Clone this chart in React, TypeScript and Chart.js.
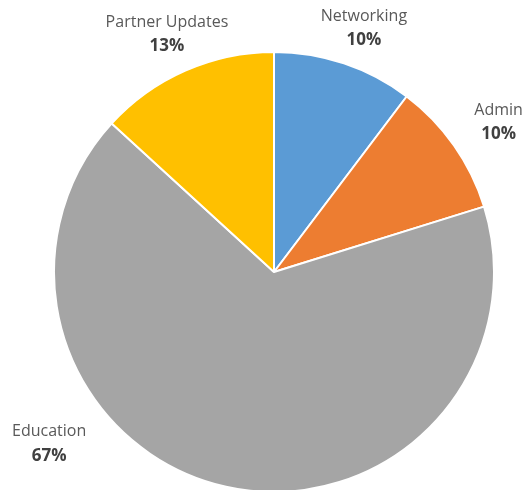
import React, { useEffect, useRef } from "react";
import { Chart, registerables } from "chart.js";

Chart.register(...registerables);

const categories = ["Networking", "Admin", "Education", "Partner Updates"];
const values = [10.3, 9.9, 66.6, 13.2];
const colors = ["#5B9BD5", "#ED7D31", "#A5A5A5", "#FFC000"];
// label placement: extra distance beyond radius, angle shift / override (deg from top, clockwise)
const labelDist = [40, 50, 63, 40.5];
const labelShift = [1.7, 1.4, 0, -0.5];
const labelAngle: (number | null)[] = [null, null, 232.6, null];

const outsideLabels = {
  id: "outsideLabels",
  afterDraw(chart: any) {
    const ctx = chart.ctx;
    const meta = chart.getDatasetMeta(0);
    const data = chart.data.datasets[0].data as number[];
    const total = data.reduce((a, b) => a + b, 0);
    ctx.save();
    ctx.textAlign = "center";
    ctx.textBaseline = "middle";
    meta.data.forEach((arc: any, i: number) => {
      const { x, y, startAngle, endAngle, outerRadius } = arc.getProps(
        ["x", "y", "startAngle", "endAngle", "outerRadius"],
        true
      );
      let a = (startAngle + endAngle) / 2 + (labelShift[i] * Math.PI) / 180;
      if (labelAngle[i] !== null) a = (((labelAngle[i] as number) - 90) * Math.PI) / 180;
      const d = outerRadius + labelDist[i];
      const lx = x + Math.cos(a) * d;
      const ly = y + Math.sin(a) * d;
      ctx.fillStyle = "#595959";
      ctx.font = "16px 'Open Sans'";
      ctx.fillText(chart.data.labels[i], lx, ly - 12);
      ctx.fillStyle = "#404040";
      ctx.font = "bold 17px 'Open Sans'";
      ctx.fillText(Math.round((data[i] / total) * 100) + "%", lx, ly + 12);
    });
    ctx.restore();
  },
};

export default function App() {
  const ref = useRef<HTMLCanvasElement>(null);
  useEffect(() => {
    document.body.style.margin = "0";
    document.body.style.overflow = "hidden";
    const chart = new Chart(ref.current!, {
      type: "pie",
      data: {
        labels: categories,
        datasets: [
          {
            data: values,
            backgroundColor: colors,
            borderColor: "#ffffff",
            borderWidth: 2,
          },
        ],
      },
      options: {
        responsive: false,
        animation: false,
        layout: { padding: { left: 53, right: 28, top: 51, bottom: 7 } },
        plugins: {
          legend: { display: false },
          tooltip: { enabled: false },
          title: { display: false },
        },
      },
      plugins: [outsideLabels],
    });
    return () => chart.destroy();
  }, []);
  return (
    <div style={{ position: "absolute", left: 0, top: 0, width: 523, height: 490, overflow: "hidden", background: "#fff" }}>
      <canvas ref={ref} width={523} height={500} style={{ display: "block" }} />
    </div>
  );
}
